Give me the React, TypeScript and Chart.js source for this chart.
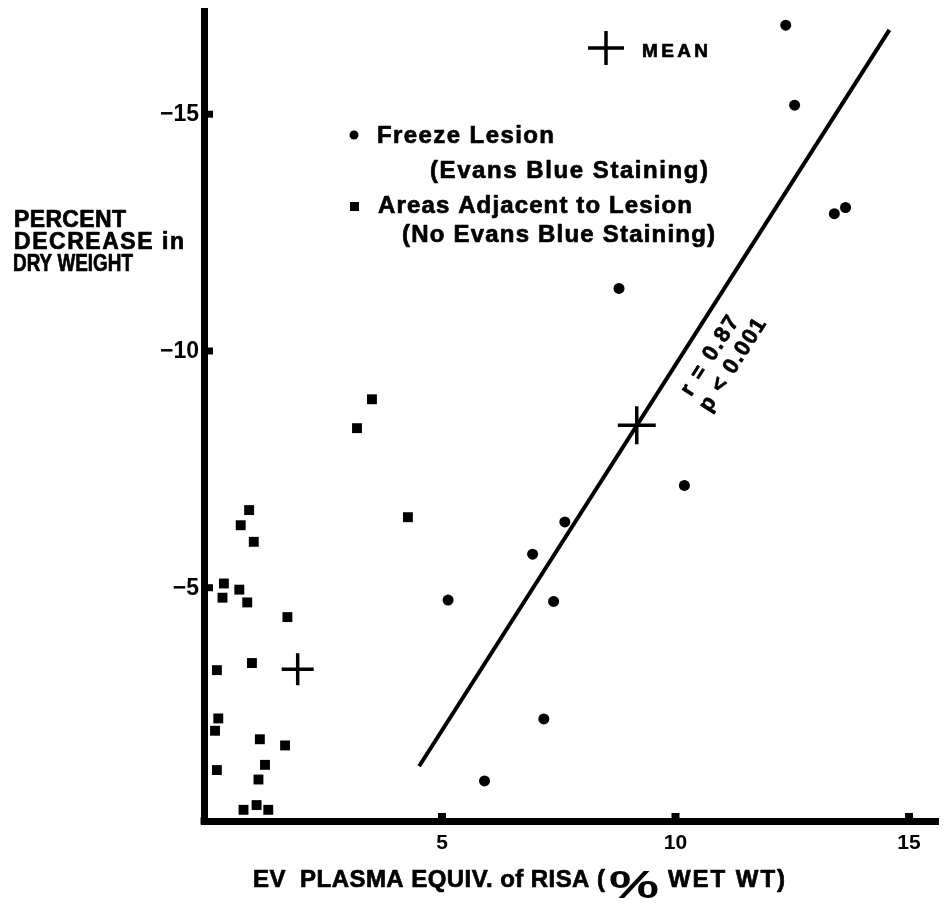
import React, { useEffect, useRef } from "react";
import { Chart, registerables } from "chart.js";
Chart.register(...registerables);

// Freeze lesion (Evans Blue staining) – circles
const freezeX = [12.36, 12.55, 13.4, 13.64, 8.79, 10.19, 7.63, 6.94, 5.13, 7.39, 7.18, 5.91];
const freezeY = [-16.89, -15.2, -12.91, -13.04, -11.33, -7.17, -6.4, -5.72, -4.75, -4.72, -2.24, -0.93];

// Areas adjacent to lesion (no Evans Blue staining) – squares
const adjacentX = [0.87, 0.69, 0.97, 0.33, 0.3, 0.66, 0.83, 1.69, 0.18, 0.93, 0.21, 0.14, 1.1, 1.64, 1.21, 0.18, 1.07, 0.75, 1.03, 1.28, 3.18, 3.5, 4.27];
const adjacentY = [-6.65, -6.33, -5.98, -5.1, -4.8, -4.97, -4.7, -4.39, -3.27, -3.42, -2.25, -1.99, -1.81, -1.68, -1.27, -1.16, -0.96, -0.32, -0.42, -0.32, -8.38, -8.99, -6.5];

// Means
const freezeMean = { x: 9.17, y: -8.44 };
const adjacentMean = { x: 1.91, y: -3.29 };

// Regression line (r = 0.87, p < 0.001)
const regressionX = [4.51, 14.58];
const regressionY = [-1.24, -16.79];

const xTicks = [5, 10, 15];
const yTicks = [-5, -10, -15];

const FONT = "'Liberation Sans', Arial, sans-serif";

function fitText(ctx: CanvasRenderingContext2D, text: string, x: number, y: number, width: number) {
  (ctx as any).letterSpacing = "0px";
  ctx.textAlign = "left";
  const m = ctx.measureText(text).width;
  ctx.lineWidth = 0.7;
  ctx.lineJoin = "round";
  if (m < width) {
    const ls = (width - m) / Math.max(1, text.length - 1);
    (ctx as any).letterSpacing = ls + "px";
    ctx.fillText(text, x, y);
    ctx.strokeText(text, x, y);
  } else {
    ctx.fillText(text, x, y, width);
    ctx.strokeText(text, x, y, width);
  }
  (ctx as any).letterSpacing = "0px";
}

function zeroPad(s: any) {
  s.paddingLeft = 0;
  s.paddingRight = 0;
  s.paddingTop = 0;
  s.paddingBottom = 0;
}

const overlay = {
  id: "overlay",
  afterDraw(chart: any) {
    const ctx: CanvasRenderingContext2D = chart.ctx;
    const xs = chart.scales.x;
    const ys = chart.scales.y;
    const area = chart.chartArea;
    ctx.save();
    ctx.fillStyle = "#000";
    ctx.strokeStyle = "#000";
    // corner fill
    ctx.fillRect(area.left - 3.5, area.bottom - 3.5, 7, 7);
    // tick bumps
    for (const v of yTicks) {
      const py = ys.getPixelForValue(v);
      ctx.fillRect(area.left + 3, py - 4, 6, 7);
    }
    for (const v of xTicks) {
      const px = xs.getPixelForValue(v);
      ctx.fillRect(px - 4, area.bottom - 8, 8, 6);
    }

    // legend
    ctx.textBaseline = "alphabetic";
    ctx.font = `bold 24px ${FONT}`;
    ctx.beginPath();
    ctx.arc(354, 135, 4.5, 0, Math.PI * 2);
    ctx.fill();
    fitText(ctx, "Freeze Lesion", 377, 143, 177);
    fitText(ctx, "(Evans Blue Staining)", 430, 178, 278);
    ctx.fillRect(350, 202, 9, 9);
    fitText(ctx, "Areas Adjacent to Lesion", 378, 213, 314);
    fitText(ctx, "(No Evans Blue Staining)", 402, 242, 313);

    // mean legend
    ctx.lineWidth = 3.5;
    ctx.beginPath();
    ctx.moveTo(588, 48); ctx.lineTo(624, 48);
    ctx.moveTo(606, 31); ctx.lineTo(606, 65);
    ctx.stroke();
    ctx.font = `bold 19px ${FONT}`;
    fitText(ctx, "MEAN", 642, 57, 66);

    // r / p annotation, rotated along regression line
    const p1x = xs.getPixelForValue(regressionX[0]);
    const p1y = ys.getPixelForValue(regressionY[0]);
    const p2x = xs.getPixelForValue(regressionX[1]);
    const p2y = ys.getPixelForValue(regressionY[1]);
    const ang = Math.atan2(p2y - p1y, p2x - p1x);
    ctx.font = `bold 22px ${FONT}`;
    ctx.save();
    ctx.translate(710, 356);
    ctx.rotate(ang);
    ctx.textBaseline = "middle";
    fitText(ctx, "r = 0.87", -45, 0, 90);
    ctx.restore();
    ctx.save();
    ctx.translate(733, 365);
    ctx.rotate(ang);
    ctx.textBaseline = "middle";
    fitText(ctx, "p < 0.001", -53, 0, 106);
    ctx.restore();

    // y-axis title
    ctx.textBaseline = "alphabetic";
    ctx.font = `bold 23px ${FONT}`;
    fitText(ctx, "PERCENT", 14, 227, 112);
    fitText(ctx, "DECREASE in", 14, 249, 170);
    fitText(ctx, "DRY WEIGHT", 13, 271, 120);

    // x-axis title
    ctx.font = `bold 24px ${FONT}`;
    fitText(ctx, "EV  PLASMA EQUIV. of RISA (", 253, 887, 352);
    ctx.save();
    ctx.font = `bold 38px ${FONT}`;
    const pw = ctx.measureText("%").width;
    ctx.translate(609, 898);
    ctx.scale(50 / pw, 1);
    ctx.textAlign = "left";
    ctx.fillText("%", 0, 0);
    ctx.restore();
    ctx.font = `bold 24px ${FONT}`;
    fitText(ctx, "WET WT)", 668, 887, 117);
    ctx.restore();
  },
};

export default function App() {
  const ref = useRef<HTMLCanvasElement | null>(null);
  useEffect(() => {
    if (!ref.current) return;
    const chart = new Chart(ref.current, {
      type: "scatter",
      data: {
        datasets: [
          {
            label: "Freeze Lesion",
            data: freezeX.map((x, i) => ({ x, y: freezeY[i] })),
            pointStyle: "circle",
            pointRadius: 5.5,
            backgroundColor: "#000",
            borderColor: "#000",
            borderWidth: 0,
          },
          {
            label: "Areas Adjacent to Lesion",
            data: adjacentX.map((x, i) => ({ x, y: adjacentY[i] })),
            pointStyle: "rect",
            pointRadius: 7,
            backgroundColor: "#000",
            borderColor: "#000",
            borderWidth: 0,
          },
          {
            label: "Mean (freeze)",
            data: [freezeMean],
            pointStyle: "cross",
            pointRadius: 19,
            borderColor: "#000",
            borderWidth: 3.5,
          },
          {
            label: "Mean (adjacent)",
            data: [adjacentMean],
            pointStyle: "cross",
            pointRadius: 16,
            borderColor: "#000",
            borderWidth: 3.5,
          },
          {
            label: "Regression",
            data: regressionX.map((x, i) => ({ x, y: regressionY[i] })),
            showLine: true,
            borderColor: "#000",
            borderWidth: 4,
            pointRadius: 0,
            fill: false,
          } as any,
        ],
      },
      options: {
        animation: false,
        responsive: false,
        layout: { autoPadding: false, padding: { top: 11, right: 6, left: 0, bottom: 0 } },
        plugins: { legend: { display: false }, tooltip: { enabled: false } },
        scales: {
          x: {
            type: "linear",
            min: -0.096,
            max: 15.62,
            afterFit: (s: any) => { s.height = 82; zeroPad(s); },
            afterBuildTicks: (s: any) => { s.ticks = xTicks.map((v) => ({ value: v })); },
            grid: { display: false, drawTicks: false },
            border: { display: true, color: "#000", width: 7 },
            ticks: {
              color: "#000",
              font: { family: FONT, size: 21, weight: "bold" },
              padding: 10,
              maxRotation: 0,
              autoSkip: false,
            },
          },
          y: {
            type: "linear",
            reverse: true,
            min: -17.19,
            max: -0.084,
            afterFit: (s: any) => { s.width = 204; zeroPad(s); },
            afterBuildTicks: (s: any) => { s.ticks = yTicks.map((v) => ({ value: v })); },
            grid: { display: false, drawTicks: false },
            border: { display: true, color: "#000", width: 7 },
            ticks: {
              color: "#000",
              font: { family: FONT, size: 23, weight: "bold" },
              padding: 5,
              autoSkip: false,
              callback: (v: any) => "\u2212" + Math.abs(Number(v)),
            },
          },
        },
      },
      plugins: [overlay],
    } as any);
    return () => chart.destroy();
  }, []);
  return (
    <div style={{ position: "fixed", left: 0, top: 0, width: 944, height: 903, background: "#fff" }}>
      <canvas ref={ref} width={944} height={903} style={{ display: "block", width: 944, height: 903 }} />
    </div>
  );
}
